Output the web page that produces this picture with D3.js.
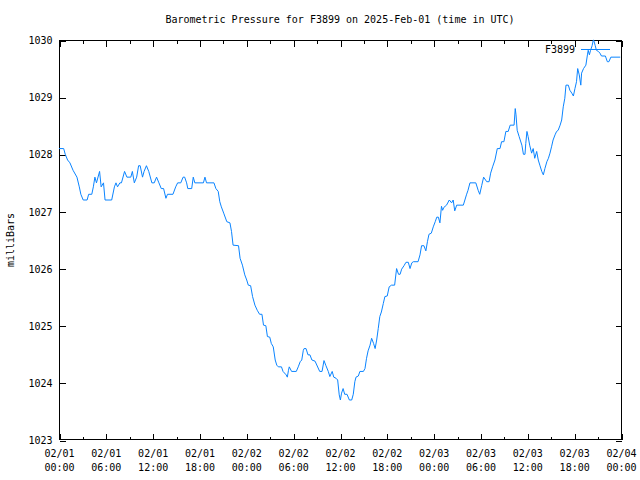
<!DOCTYPE html>
<html><head><meta charset="utf-8">
<script src="https://cdn.jsdelivr.net/npm/d3@7"></script>
<style>
html,body{margin:0;padding:0;background:#fff;}
svg{display:block;}
text{font-family:"DejaVu Sans Mono",monospace;fill:#000;}
</style></head>
<body>
<script>
const title = "Barometric Pressure for F3899 on 2025-Feb-01 (time in UTC)";
const yLabel = "milliBars";
const seriesName = "F3899";
const yTicks = [1023,1024,1025,1026,1027,1028,1029,1030];
// hours since 2025-02-01 00:00 UTC
const hours = [0.0,0.6,0.8,1.1,1.4,1.8,2.3,2.6,2.8,3.1,3.6,3.8,4.2,4.4,4.6,4.8,5.2,5.4,5.7,5.9,6.75,7.1,7.3,7.5,7.8,8.0,8.4,8.7,9.2,9.4,9.65,9.95,10.2,10.4,10.7,10.9,11.2,11.5,11.9,12.2,12.5,12.8,13.1,13.4,13.7,13.9,14.6,14.95,15.2,15.6,15.9,16.1,16.35,16.5,17.0,17.2,17.4,18.5,18.7,18.9,19.85,20.1,20.4,20.6,20.8,21.1,21.5,21.9,22.1,22.3,23.0,23.2,23.5,23.8,24.05,24.25,24.55,24.8,25.1,25.4,25.7,26.0,26.2,26.5,26.7,27.0,27.2,27.45,27.7,27.9,28.1,28.5,28.7,29.1,29.25,29.4,29.5,29.8,30.4,30.65,30.9,31.1,31.3,31.4,31.65,31.9,32.15,32.4,32.8,33.2,33.4,33.7,33.95,34.2,34.5,34.7,35.0,35.2,35.5,35.7,35.9,36.05,36.2,36.4,36.6,36.9,37.2,37.5,37.7,37.9,38.05,38.35,38.55,39.0,39.2,39.4,39.6,39.85,40.05,40.3,40.5,40.7,40.9,41.1,41.3,41.55,41.75,42.05,42.3,42.6,43.0,43.25,43.5,43.7,43.9,44.2,44.45,44.75,44.97,45.2,45.4,46.0,46.25,46.45,46.75,47.0,47.2,47.4,47.7,47.95,48.2,48.4,48.6,48.8,49.0,49.15,49.3,49.65,50.0,50.3,50.5,50.7,50.95,51.8,52.0,52.2,52.4,52.65,53.4,53.7,53.9,54.15,54.4,54.8,55.1,55.3,55.55,55.85,56.15,56.5,56.7,57.0,57.25,57.55,57.8,58.3,58.45,58.55,58.7,58.95,59.3,59.5,59.7,59.8,59.95,60.1,60.3,60.55,60.75,60.95,61.2,61.4,61.6,61.85,62.05,62.25,62.5,62.7,62.9,63.1,63.3,63.55,63.75,63.95,64.2,64.4,64.6,64.8,64.95,65.25,65.45,65.7,65.9,66.1,66.3,66.45,66.65,66.85,66.95,67.2,67.5,67.7,67.8,67.95,68.1,68.3,68.45,68.5,68.7,68.85,69.1,69.3,69.5,70.0,70.25,70.45,70.7,71.9];
const pressure = [1028.1,1028.1,1028.0,1027.9,1027.85,1027.72,1027.6,1027.43,1027.3,1027.2,1027.2,1027.3,1027.3,1027.43,1027.6,1027.5,1027.7,1027.43,1027.5,1027.2,1027.2,1027.43,1027.5,1027.43,1027.5,1027.5,1027.7,1027.6,1027.6,1027.7,1027.5,1027.6,1027.8,1027.8,1027.6,1027.7,1027.8,1027.7,1027.5,1027.5,1027.6,1027.5,1027.4,1027.4,1027.23,1027.3,1027.3,1027.43,1027.5,1027.5,1027.6,1027.6,1027.5,1027.4,1027.4,1027.6,1027.5,1027.5,1027.6,1027.5,1027.5,1027.4,1027.35,1027.17,1027.08,1026.97,1026.82,1026.8,1026.65,1026.41,1026.4,1026.18,1026.06,1025.89,1025.8,1025.71,1025.7,1025.51,1025.36,1025.27,1025.2,1025.2,1025.01,1025.0,1024.81,1024.8,1024.69,1024.63,1024.4,1024.31,1024.28,1024.28,1024.2,1024.14,1024.1,1024.22,1024.28,1024.2,1024.2,1024.28,1024.37,1024.4,1024.57,1024.6,1024.6,1024.49,1024.49,1024.4,1024.38,1024.26,1024.2,1024.2,1024.39,1024.3,1024.2,1024.11,1024.2,1024.1,1024.08,1024.05,1023.79,1023.7,1023.82,1023.9,1023.8,1023.8,1023.7,1023.7,1023.8,1024.02,1024.1,1024.12,1024.2,1024.2,1024.25,1024.43,1024.56,1024.66,1024.78,1024.69,1024.6,1024.75,1024.95,1025.16,1025.24,1025.39,1025.51,1025.52,1025.68,1025.71,1025.71,1026.0,1025.9,1025.9,1025.99,1026.05,1026.11,1026.11,1026.0,1026.1,1026.12,1026.12,1026.24,1026.4,1026.4,1026.31,1026.47,1026.6,1026.62,1026.73,1026.82,1026.9,1026.9,1026.8,1027.09,1027.02,1027.07,1027.11,1027.2,1027.15,1027.2,1027.01,1027.11,1027.11,1027.2,1027.29,1027.37,1027.5,1027.5,1027.37,1027.3,1027.45,1027.6,1027.52,1027.52,1027.67,1027.78,1027.9,1028.1,1028.1,1028.22,1028.22,1028.4,1028.4,1028.51,1028.51,1028.8,1028.69,1028.42,1028.31,1028.16,1028.0,1028.0,1028.19,1028.4,1028.31,1028.16,1028.02,1028.1,1027.93,1028.05,1027.9,1027.81,1027.7,1027.64,1027.75,1027.87,1027.93,1028.02,1028.13,1028.25,1028.34,1028.4,1028.42,1028.51,1028.6,1028.83,1028.98,1029.21,1029.21,1029.12,1029.07,1029.02,1029.15,1029.27,1029.5,1029.39,1029.21,1029.42,1029.5,1029.56,1029.74,1029.82,1029.74,1029.82,1029.9,1030.0,1030.0,1029.9,1029.82,1029.8,1029.77,1029.72,1029.72,1029.62,1029.62,1029.7,1029.7];

const W = 640, H = 480;
const L = 59, R = 621, T = 40, B = 440;
const start = new Date(Date.UTC(2025,1,1,0,0));
const end = new Date(Date.UTC(2025,1,4,0,0));
const color = "#0a84ff";

const svg = d3.select("body").append("svg").attr("width", W).attr("height", H);

const x = d3.scaleUtc().domain([start, end]).range([L, R]);
const y = d3.scaleLinear().domain([1023, 1030]).range([B, T]);

const data = hours.map((h, i) => ({t: new Date(start.getTime() + h * 3600e3), v: pressure[i]}));

// title
svg.append("text").attr("x", 340).attr("y", 23).attr("text-anchor", "middle")
  .style("font-size", "10px").text(title);

// y label
svg.append("text").attr("transform", "translate(14,240) rotate(-90)")
  .attr("text-anchor", "middle").style("font-size", "10px").text(yLabel);

// axes
const fmtD = d3.utcFormat("%m/%d"), fmtT = d3.utcFormat("%H:%M");
const minorTicks = d3.utcHour.every(3).range(start, d3.utcMinute.offset(end, 1));
const majorTicks = d3.utcHour.every(6).range(start, d3.utcMinute.offset(end, 1));

function styleAxis(g) {
  g.select(".domain").remove();
  g.selectAll("line").attr("stroke", "#000").attr("shape-rendering", "crispEdges");
}

// minor x ticks bottom/top
svg.append("g").attr("transform", `translate(0.5,${B - 0.5})`)
  .call(d3.axisBottom(x).tickValues(minorTicks).tickSize(-3).tickFormat("")).call(styleAxis);
svg.append("g").attr("transform", `translate(0.5,${T + 0.5})`)
  .call(d3.axisTop(x).tickValues(minorTicks).tickSize(-3).tickFormat("")).call(styleAxis);
// major x ticks
const xb = svg.append("g").attr("transform", `translate(0.5,${B - 0.5})`)
  .call(d3.axisBottom(x).tickValues(majorTicks).tickSize(-6).tickPadding(14).tickFormat(d => fmtD(d)))
  .call(styleAxis);
xb.selectAll("text").each(function(d) {
  const t = d3.select(this);
  t.text(null).attr("y", 0).attr("dy", null)
   .style("font-size", "10px").style("font-family", '"DejaVu Sans Mono",monospace').attr("fill", "#000");
  t.append("tspan").attr("x", -0.5).attr("y", 17).text(fmtD(d));
  t.append("tspan").attr("x", -0.5).attr("y", 31).text(fmtT(d));
});
svg.append("g").attr("transform", `translate(0.5,${T + 0.5})`)
  .call(d3.axisTop(x).tickValues(majorTicks).tickSize(-6).tickFormat("")).call(styleAxis);

// y ticks
const yl = svg.append("g").attr("transform", `translate(${L + 0.5},0.5)`)
  .call(d3.axisLeft(y).tickValues(yTicks).tickSize(-6).tickPadding(7).tickFormat(d3.format("d")))
  .call(styleAxis);
yl.selectAll("text").style("font-size", "10px").style("font-family", '"DejaVu Sans Mono",monospace').attr("fill", "#000");
svg.append("g").attr("transform", `translate(${R + 0.5},0.5)`)
  .call(d3.axisRight(y).tickValues(yTicks).tickSize(-6).tickFormat("")).call(styleAxis);

// frame
svg.append("rect").attr("x", L + 0.5).attr("y", T + 0.5).attr("width", R - L).attr("height", B - T - 1)
  .attr("fill", "none").attr("stroke", "#000").attr("shape-rendering", "crispEdges");

// line
svg.append("path").datum(data)
  .attr("d", d3.line().x(d => x(d.t)).y(d => y(d.v)))
  .attr("fill", "none").attr("stroke", color).attr("stroke-width", 1);

// legend
svg.append("text").attr("x", 575).attr("y", 53).attr("text-anchor", "end")
  .style("font-size", "10px").text(seriesName);
svg.append("line").attr("x1", 581).attr("x2", 610).attr("y1", 49.5).attr("y2", 49.5)
  .attr("stroke", color).attr("stroke-width", 1);
</script>
</body></html>
